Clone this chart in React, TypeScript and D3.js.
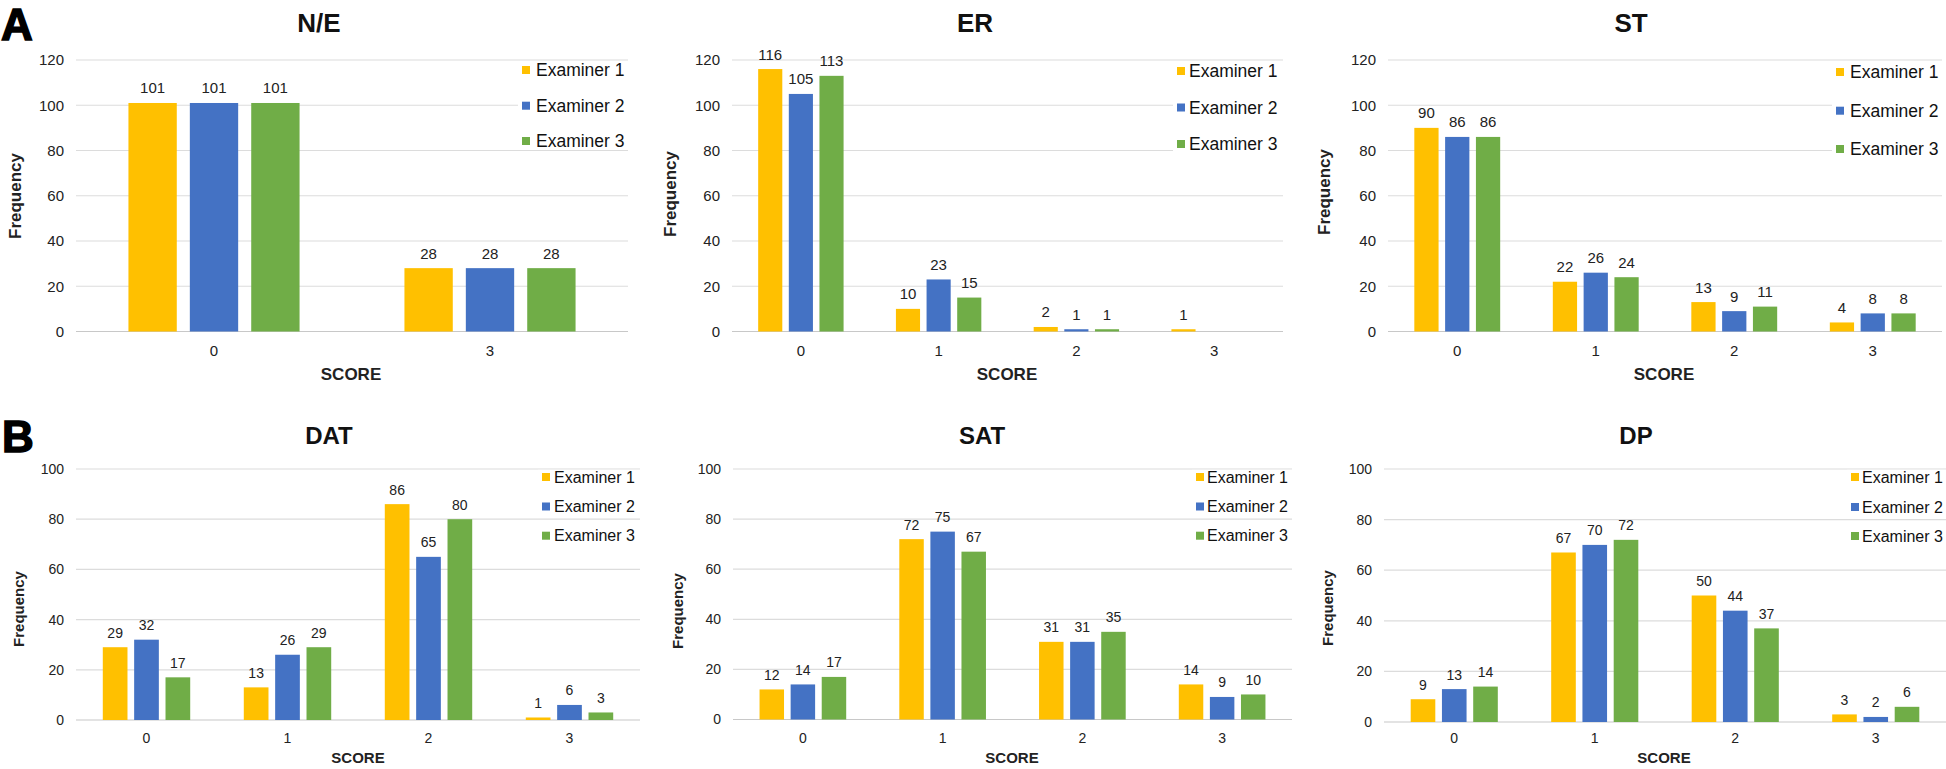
import React from "react";
import * as d3 from "d3";

// ---------- DATA ----------
const EXAMINERS = ["Examiner 1", "Examiner 2", "Examiner 3"];
const COLORS = ["#FFC000", "#4472C4", "#70AD47"];

const NE_SCORES = ["0", "3"];
const NE_EXAMINER1 = [101, 28];
const NE_EXAMINER2 = [101, 28];
const NE_EXAMINER3 = [101, 28];

const ER_SCORES = ["0", "1", "2", "3"];
const ER_EXAMINER1 = [116, 10, 2, 1];
const ER_EXAMINER2 = [105, 23, 1, null];
const ER_EXAMINER3 = [113, 15, 1, null];

const ST_SCORES = ["0", "1", "2", "3"];
const ST_EXAMINER1 = [90, 22, 13, 4];
const ST_EXAMINER2 = [86, 26, 9, 8];
const ST_EXAMINER3 = [86, 24, 11, 8];

const DAT_SCORES = ["0", "1", "2", "3"];
const DAT_EXAMINER1 = [29, 13, 86, 1];
const DAT_EXAMINER2 = [32, 26, 65, 6];
const DAT_EXAMINER3 = [17, 29, 80, 3];

const SAT_SCORES = ["0", "1", "2", "3"];
const SAT_EXAMINER1 = [12, 72, 31, 14];
const SAT_EXAMINER2 = [14, 75, 31, 9];
const SAT_EXAMINER3 = [17, 67, 35, 10];

const DP_SCORES = ["0", "1", "2", "3"];
const DP_EXAMINER1 = [9, 67, 50, 3];
const DP_EXAMINER2 = [13, 70, 44, 2];
const DP_EXAMINER3 = [14, 72, 37, 6];

const TOP_TICKS = [0, 20, 40, 60, 80, 100, 120];
const BOTTOM_TICKS = [0, 20, 40, 60, 80, 100];

// ---------- LAYOUT ----------
const FONT = "'Liberation Sans', Arial, Helvetica, sans-serif";

type Layout = {
  left: number; right: number; yTop: number; y0: number; max: number;
  titleX: number; titleY: number; freqX: number; freqY: number;
  scoreX: number; scoreY: number; xTickY: number;
  legSq: number; legText: number; legRows: number[];
  fs: { tick: number; label: number; axis: number; title: number; legend: number };
};

const TOP_FS = { tick: 15, label: 15, axis: 17, title: 26, legend: 17.5 };
const BOT_FS = { tick: 14, label: 14, axis: 15, title: 24, legend: 16 };

const panels = [
  {
    title: "N/E", scores: NE_SCORES, series: [NE_EXAMINER1, NE_EXAMINER2, NE_EXAMINER3], ticks: TOP_TICKS,
    layout: { left: 76, right: 628, yTop: 60, y0: 331.5, max: 120, titleX: 319, titleY: 31.7, freqX: 15, freqY: 196,
      scoreX: 351, scoreY: 380, xTickY: 355.5, legSq: 522, legText: 536, legRows: [70, 105.7, 141], fs: TOP_FS } as Layout,
  },
  {
    title: "ER", scores: ER_SCORES, series: [ER_EXAMINER1, ER_EXAMINER2, ER_EXAMINER3], ticks: TOP_TICKS,
    layout: { left: 732, right: 1283, yTop: 60, y0: 331.5, max: 120, titleX: 975, titleY: 31.7, freqX: 670, freqY: 194,
      scoreX: 1007, scoreY: 380, xTickY: 355.5, legSq: 1177, legText: 1189, legRows: [71, 107.5, 144], fs: TOP_FS } as Layout,
  },
  {
    title: "ST", scores: ST_SCORES, series: [ST_EXAMINER1, ST_EXAMINER2, ST_EXAMINER3], ticks: TOP_TICKS,
    layout: { left: 1388, right: 1942, yTop: 60, y0: 331.5, max: 120, titleX: 1631, titleY: 31.7, freqX: 1324, freqY: 192,
      scoreX: 1664, scoreY: 380, xTickY: 355.5, legSq: 1836, legText: 1850, legRows: [72, 110.7, 149], fs: TOP_FS } as Layout,
  },
  {
    title: "DAT", scores: DAT_SCORES, series: [DAT_EXAMINER1, DAT_EXAMINER2, DAT_EXAMINER3], ticks: BOTTOM_TICKS,
    layout: { left: 76, right: 640, yTop: 469, y0: 720, max: 100, titleX: 329, titleY: 444.3, freqX: 19, freqY: 609,
      scoreX: 358, scoreY: 763.4, xTickY: 742.7, legSq: 542, legText: 554, legRows: [477, 506.5, 535.7], fs: BOT_FS } as Layout,
  },
  {
    title: "SAT", scores: SAT_SCORES, series: [SAT_EXAMINER1, SAT_EXAMINER2, SAT_EXAMINER3], ticks: BOTTOM_TICKS,
    layout: { left: 733, right: 1292, yTop: 469, y0: 719.5, max: 100, titleX: 982, titleY: 444.3, freqX: 678, freqY: 611,
      scoreX: 1012, scoreY: 763.4, xTickY: 742.7, legSq: 1196, legText: 1207, legRows: [477, 506.5, 535.7], fs: BOT_FS } as Layout,
  },
  {
    title: "DP", scores: DP_SCORES, series: [DP_EXAMINER1, DP_EXAMINER2, DP_EXAMINER3], ticks: BOTTOM_TICKS,
    layout: { left: 1384, right: 1946, yTop: 469, y0: 722, max: 100, titleX: 1636, titleY: 444.3, freqX: 1328, freqY: 608,
      scoreX: 1664, scoreY: 763.4, xTickY: 742.7, legSq: 1851, legText: 1862, legRows: [477, 507, 536], fs: BOT_FS } as Layout,
  },
];

function Panel({ title, scores, series, ticks, layout: L }: any) {
  const x = d3.scaleBand<string>().domain(scores).range([L.left, L.right]).paddingInner(0).paddingOuter(0);
  const y = d3.scaleLinear().domain([0, L.max]).range([L.y0, L.yTop]);
  const B = x.bandwidth();
  const groupW = 0.62 * B;
  const inner = d3.scaleBand<string>().domain(EXAMINERS).range([0, groupW]).paddingInner(0.2126).paddingOuter(0);
  const bw = inner.bandwidth();
  const fs = L.fs;

  return (
    <g>
      {ticks.map((t: number) => (
        <line key={"g" + t} x1={L.left} x2={L.right} y1={y(t)} y2={y(t)}
          stroke={t === 0 ? "#C8C8C8" : "#DCDCDC"} strokeWidth={1.2} />
      ))}
      {ticks.map((t: number) => (
        <text key={"t" + t} x={L.left - 12} y={y(t)} dy="0.35em" textAnchor="end"
          fontSize={fs.tick} fill="#222">{t}</text>
      ))}
      {/* legend */}
      {EXAMINERS.map((ex, i) => (
        <g key={"l" + i}>
          <rect x={L.legSq - 4} y={L.legRows[i] - fs.legend * 0.45} width={L.right - L.legSq + 4}
            height={fs.legend * 0.9} fill="#fff" />
          <rect x={L.legSq} y={L.legRows[i] - 4} width={8} height={8} fill={COLORS[i]} />
          <text x={L.legText} y={L.legRows[i]} dy="0.35em" fontSize={fs.legend} fill="#111">{ex}</text>
        </g>
      ))}
      {/* bars */}
      {scores.map((s: string, ci: number) => {
        const gx = (x(s) as number) + (B - groupW) / 2;
        return (
          <g key={"c" + s}>
            {EXAMINERS.map((ex, si) => {
              const v = series[si][ci];
              if (v === null || v === undefined) return null;
              const bx = gx + (inner(ex) as number);
              return (
                <g key={ex}>
                  <rect x={bx} y={y(v)} width={bw} height={L.y0 - y(v)} fill={COLORS[si]} />
                  <text x={bx + bw / 2} y={y(v) - 9.5} textAnchor="middle" fontSize={fs.label} fill="#222">{v}</text>
                </g>
              );
            })}
            <text x={(x(s) as number) + B / 2} y={L.xTickY} textAnchor="middle" fontSize={fs.tick} fill="#222">{s}</text>
          </g>
        );
      })}
      <text x={L.titleX} y={L.titleY} textAnchor="middle" fontSize={fs.title} fontWeight="bold" fill="#111">{title}</text>
      <text x={L.scoreX} y={L.scoreY} textAnchor="middle" fontSize={fs.axis} fontWeight="bold" fill="#222">SCORE</text>
      <text transform={`translate(${L.freqX},${L.freqY}) rotate(-90)`} textAnchor="middle" dy="0.35em"
        fontSize={fs.axis} fontWeight="bold" fill="#222">Frequency</text>
    </g>
  );
}

export default function App() {
  return (
    <svg width={1946} height={769} style={{ position: "absolute", left: 0, top: 0, background: "#fff" }}
      fontFamily={FONT}>
      <rect x={0} y={0} width={1946} height={769} fill="#fff" />
      {panels.map((p) => (
        <Panel key={p.title} {...p} />
      ))}
      <text x={1} y={40} fontSize={44} fontWeight="bold" fill="#000" stroke="#000" strokeWidth={1.5}>A</text>
      <text x={2} y={452} fontSize={44} fontWeight="bold" fill="#000" stroke="#000" strokeWidth={1.5}>B</text>
    </svg>
  );
}
